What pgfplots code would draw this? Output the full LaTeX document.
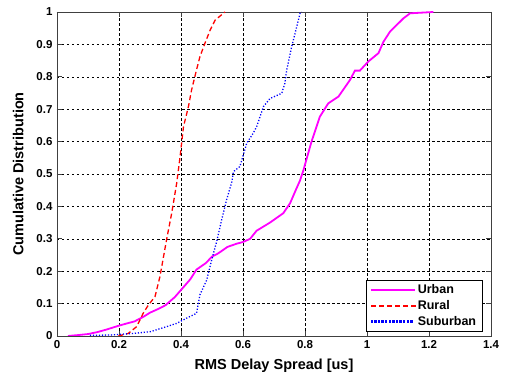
\documentclass[border=0pt]{standalone}
\usepackage{fontspec}
\setmainfont{Liberation Sans}
\usepackage{pgfplots}
\pgfplotsset{compat=1.18}
\definecolor{urbanM}{RGB}{255,0,255}
\definecolor{ruralR}{RGB}{255,0,0}
\definecolor{suburbB}{RGB}{0,0,255}
\begin{document}
\begin{tikzpicture}
\begin{axis}[
  width=434pt, height=324pt, scale only axis,
  xmin=0, xmax=1.4, ymin=0, ymax=1,
  xtick={0,0.2,...,1.4}, ytick={0,0.1,...,1},
  /pgf/number format/assume math mode=true,
  tick label style={font=\fontsize{11.5}{13}\selectfont\bfseries},
  xticklabel style={yshift=-1pt},
  yticklabel style={xshift=-1pt},
  label style={font=\fontsize{14.5}{16}\selectfont\bfseries},
  xlabel={RMS Delay Spread [us]},
  ylabel={Cumulative Distribution},
  xlabel style={yshift=-3pt},
  ylabel style={yshift=6pt},
  axis line style={draw=black!75, line width=0.6pt},
  tick align=inside, major tick length=5pt,
  tick style={black!75, line width=0.6pt},
  grid=major,
  major grid style={black, dash pattern=on 2.5pt off 2.5pt, line width=0.5pt},
  legend style={at={(0.98,0.013)}, anchor=south east, fill=white,
    font=\fontsize{12.5}{14}\selectfont\bfseries, row sep=1pt,
    inner xsep=4pt, inner ysep=3pt},
  legend cell align=left,
]
\addlegendimage{legend image code/.code={\draw[urbanM, line width=1.8pt] (0pt,0pt) -- (44pt,0pt);}}
\addlegendentry{Urban}
\addlegendimage{legend image code/.code={\foreach \i in {0,8,16,24,32,40}{\fill[ruralR] (\i pt,-0.65pt) rectangle ++(4.5pt,1.3pt);}}}
\addlegendentry{Rural}
\addlegendimage{legend image code/.code={\foreach \i in {0,3.6,...,43}{\fill[suburbB] (\i pt,-0.65pt) rectangle ++(1.3pt,1.3pt);}}}
\addlegendentry{Suburban}
\addplot[draw=urbanM, line width=1.8pt, forget plot] coordinates {
(0.035,0) (0.07,0.003) (0.1,0.006) (0.13,0.012) (0.16,0.02) (0.2,0.032) (0.23,0.04) (0.25,0.045) (0.28,0.06) (0.3,0.072) (0.33,0.085) (0.35,0.095) (0.38,0.12) (0.4,0.142) (0.43,0.175) (0.45,0.205) (0.48,0.225) (0.5,0.245) (0.52,0.255) (0.55,0.275) (0.58,0.285) (0.6,0.29) (0.623,0.30) (0.644,0.325) (0.687,0.35) (0.73,0.379) (0.752,0.41) (0.77,0.45) (0.784,0.48) (0.795,0.512) (0.821,0.60) (0.848,0.677) (0.875,0.718) (0.908,0.739) (0.945,0.79) (0.961,0.819) (0.977,0.819) (1.004,0.847) (1.037,0.873) (1.053,0.908) (1.074,0.939) (1.096,0.96) (1.117,0.98) (1.139,0.996) (1.214,1.0)
};
\addplot[draw=ruralR, line width=1.3pt, dash pattern=on 5pt off 3pt, forget plot] coordinates {
(0.198,0) (0.23,0.008) (0.257,0.029) (0.278,0.07) (0.295,0.096) (0.316,0.121) (0.332,0.183) (0.354,0.30) (0.37,0.379) (0.386,0.471) (0.397,0.553) (0.408,0.646) (0.424,0.708) (0.434,0.759) (0.45,0.821) (0.461,0.862) (0.477,0.903) (0.494,0.944) (0.51,0.975) (0.542,1.0)
};
\addplot[draw=suburbB, line width=1.3pt, dash pattern=on 1.2pt off 1.8pt, forget plot] coordinates {
(0.106,0.002) (0.171,0.003) (0.246,0.008) (0.3,0.013) (0.354,0.029) (0.386,0.039) (0.418,0.055) (0.45,0.07) (0.461,0.127) (0.483,0.173) (0.499,0.235) (0.515,0.291) (0.531,0.358) (0.547,0.42) (0.564,0.476) (0.569,0.507) (0.59,0.523) (0.612,0.595) (0.633,0.626) (0.644,0.646) (0.666,0.708) (0.687,0.733) (0.725,0.749) (0.735,0.78) (0.741,0.821) (0.757,0.893) (0.768,0.934) (0.784,0.996) (0.79,1.0)
};
\end{axis}
\pgfresetboundingbox
\path (current axis.south west) ++(-57pt,-41pt) rectangle ([xshift=15pt,yshift=12pt]current axis.north east);
\end{tikzpicture}
\end{document}
